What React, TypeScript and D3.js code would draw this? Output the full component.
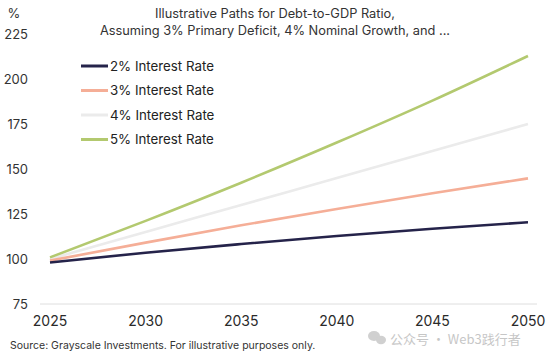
import React from "react";
import * as d3 from "d3";

const years = [2025, 2030, 2035, 2040, 2045, 2050];
const rate2 = [98.1, 103.5, 108.3, 112.8, 116.8, 120.4];
const rate3 = [99.1, 109.1, 118.7, 127.8, 136.5, 144.8];
const rate4 = [100, 115, 130, 145, 160, 175];
const rate5 = [100.9, 121.2, 142.4, 164.7, 188.0, 212.8];
const seriesNames = ["2% Interest Rate", "3% Interest Rate", "4% Interest Rate", "5% Interest Rate"];
const seriesColors = ["#25234a", "#f5ae97", "#ebebeb", "#b3c96f"];
const yTicks = [75, 100, 125, 150, 175, 200, 225];
const xTicks = [2025, 2030, 2035, 2040, 2045, 2050];
const titleLines = ["Illustrative Paths for Debt-to-GDP Ratio,", "Assuming 3% Primary Deficit, 4% Nominal Growth, and ..."];
const sourceText = "Source: Grayscale Investments. For illustrative purposes only.";
const watermark = "公众号 · Web3践行者";

const W = 553, H = 357;
const FONT = "Inter, 'Noto Sans', sans-serif";

export default function App() {
  const x = d3.scaleLinear().domain([2025, 2050]).range([50, 528]);
  const y = d3.scaleLinear().domain([75, 225]).range([304, 34]);
  const all = [rate2, rate3, rate4, rate5];
  const line = d3.line<number>()
    .x((_, i) => x(years[i]))
    .y((d) => y(d))
    .curve(d3.curveMonotoneX);
  const drawOrder = [2, 1, 0, 3];
  return (
    <svg width={W} height={H} style={{ position: "absolute", left: 0, top: 0, background: "#fff" }} fontFamily={FONT}>
      <rect width={W} height={H} fill="#fff" />
      {titleLines.map((t, i) => (
        <text key={i} x={275} y={18 + i * 17} textAnchor="middle" fontSize={12.8} fill="#333">{t}</text>
      ))}
      <text x={14} y={18} textAnchor="middle" fontSize={13} fill="#333">%</text>
      {yTicks.map((v) => (
        <text key={v} x={28} y={y(v) + 4.5} textAnchor="end" fontSize={13} fill="#333">{v}</text>
      ))}
      <line x1={40} x2={537} y1={y(75)} y2={y(75)} stroke="#dedede" strokeWidth={1} />
      {xTicks.map((v) => (
        <text key={v} x={x(v)} y={326} textAnchor="middle" fontSize={14} fill="#2a2a2a">{v}</text>
      ))}
      {drawOrder.map((k) => (
        <path key={k} d={line(all[k]) || ""} fill="none" stroke={seriesColors[k]} strokeWidth={2.6} />
      ))}
      {seriesNames.map((n, i) => (
        <g key={n} transform={`translate(0, ${66 + i * 24.5})`}>
          <line x1={81} x2={108} y1={0} y2={0} stroke={seriesColors[i]} strokeWidth={3} />
          <text x={110} y={4.5} fontSize={13.3} fill="#222">{n}</text>
        </g>
      ))}
      <text x={10} y={349} fontSize={10.5} fill="#333">{sourceText}</text>
      <g opacity={0.55}>
        <ellipse cx={374} cy={336} rx={6} ry={5} fill="#aaa" />
        <ellipse cx={381} cy={340} rx={5} ry={4.2} fill="#aaa" />
        <text x={390} y={344} fontSize={13} fill="#999" fontFamily="'Noto Sans CJK SC', sans-serif">{watermark}</text>
      </g>
    </svg>
  );
}
